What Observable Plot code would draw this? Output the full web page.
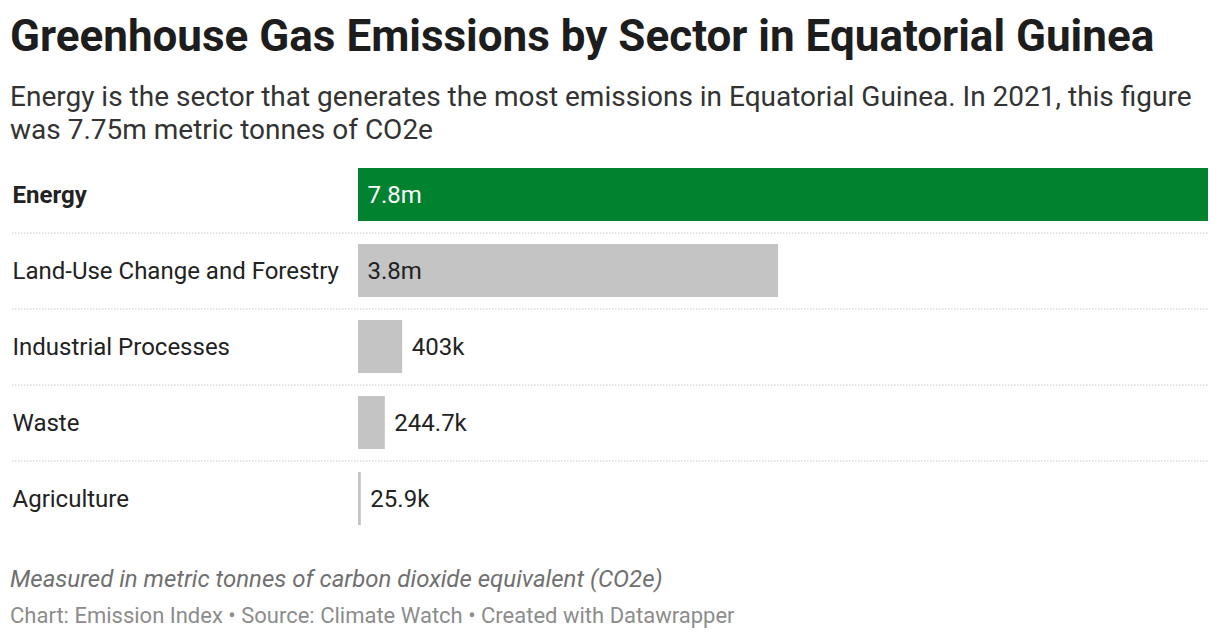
<!DOCTYPE html>
<html>
<head>
<meta charset="utf-8">
<script src="https://cdn.jsdelivr.net/npm/d3@7"></script>
<script src="https://cdn.jsdelivr.net/npm/@observablehq/plot@0.6"></script>
<style>
  html, body { margin: 0; padding: 0; background: #fff; width: 1220px; height: 640px; overflow: hidden; font-family: Roboto, sans-serif; }
  .abs { position: absolute; left: 10px; white-space: nowrap; }
  #title { top: 10px; font-size: 44px; line-height: 52px; font-weight: 700; color: #1d1d1d; }
  #subtitle { top: 80px; font-size: 28px; line-height: 33px; color: #333; white-space: normal; width: 1205px; }
  #chart { position: absolute; left: 0; top: 157px; }
  #note { top: 565px; font-size: 24px; line-height: 28px; font-style: italic; color: #707070; }
  #source { top: 603px; font-size: 22px; line-height: 26px; color: #8c8c8c; }
</style>
</head>
<body>
<div id="title" class="abs">Greenhouse Gas Emissions by Sector in Equatorial Guinea</div>
<div id="subtitle" class="abs">Energy is the sector that generates the most emissions in Equatorial Guinea. In 2021, this figure was 7.75m metric tonnes of CO2e</div>
<div id="chart"></div>
<div id="note" class="abs">Measured in metric tonnes of carbon dioxide equivalent (CO2e)</div>
<div id="source" class="abs">Chart: Emission Index • Source: Climate Watch • Created with Datawrapper</div>
<script>
const sectors = ["Energy", "Land-Use Change and Forestry", "Industrial Processes", "Waste", "Agriculture"];
const emissions = [7750000, 3830000, 403000, 244700, 25900];
const valueLabels = ["7.8m", "3.8m", "403k", "244.7k", "25.9k"];
const highlight = "Energy";
const insideLabels = ["Energy", "Land-Use Change and Forestry"];

const data = sectors.map((s, i) => ({sector: s, value: emissions[i], label: valueLabels[i]}));

const chart = Plot.plot({
  width: 1220,
  height: 380,
  marginLeft: 358,
  marginRight: 12,
  marginTop: 0,
  marginBottom: 0,
  style: {fontFamily: "Roboto, sans-serif", background: "transparent"},
  x: {domain: [0, 7750000], axis: null},
  y: {domain: sectors, paddingInner: 0.3, paddingOuter: 0.15, axis: null},
  marks: [
    Plot.ruleY(sectors.slice(1), {y: d => d, dy: -38, insetLeft: -346, stroke: "#c8c8c8", strokeWidth: 1, strokeDasharray: "1.5,1.5"}),
    Plot.barX(data, {
      x: "value", y: "sector",
      fill: d => d.sector === highlight ? "#00822f" : "#c4c4c4"
    }),
    Plot.text(data.filter(d => d.sector !== highlight), {
      y: "sector", text: "sector", frameAnchor: "left", textAnchor: "start",
      dx: -346, fontSize: 24, fill: "#222"
    }),
    Plot.text(data.filter(d => d.sector === highlight), {
      y: "sector", text: "sector", frameAnchor: "left", textAnchor: "start",
      dx: -346, fontSize: 24, fontWeight: 700, fill: "#222"
    }),
    Plot.text(data, {
      x: d => insideLabels.includes(d.sector) ? 0 : d.value,
      y: "sector", text: "label", textAnchor: "start", dx: 9, fontSize: 24,
      fill: d => d.sector === highlight ? "#ffffff" : "#222222"
    })
  ]
});
document.getElementById("chart").appendChild(chart);
</script>
</body>
</html>
